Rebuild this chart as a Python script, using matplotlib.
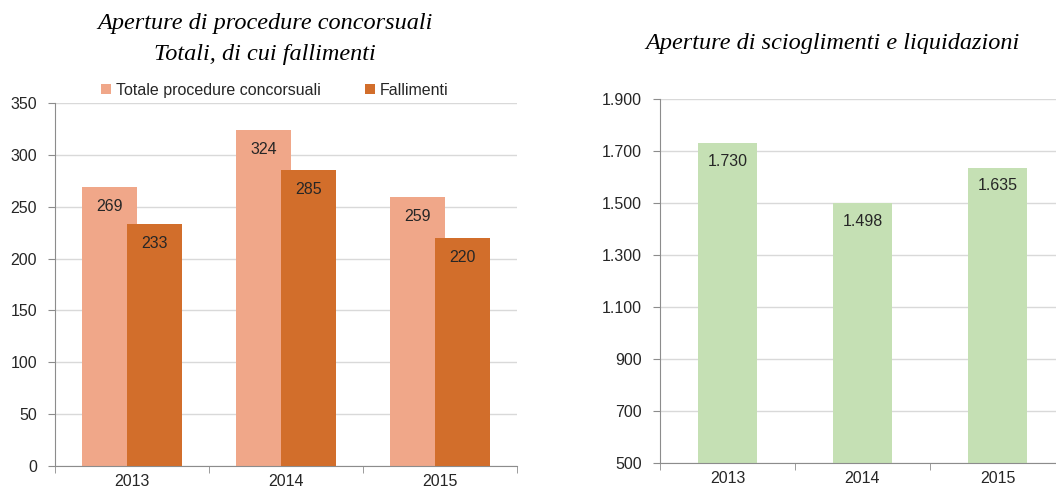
import matplotlib.pyplot as plt
import numpy as np

years = ["2013", "2014", "2015"]
totale = [269, 324, 259]
fallimenti = [233, 285, 220]
scioglimenti = [1730, 1498, 1635]

plt.rcParams['font.family'] = ['Liberation Sans', 'DejaVu Sans']

LIGHT = '#F0A789'
DARK = '#D26E2B'
GREEN = '#C5E0B4'
GRID = '#D9D9D9'
SPINE = '#8C8C8C'
TXT = '#262626'


def fmt_it(v):
    return f"{v:,.0f}".replace(",", ".")


def style_axes(ax, n):
    ax.set_xlim(-0.5, n - 0.5)
    ax.set_xticks(range(n))
    ax.set_xticklabels(years)
    ax.set_xticks(np.arange(-0.5, n, 1.0), minor=True)
    ax.tick_params(axis='x', which='major', length=0, labelsize=11.5, colors=TXT, pad=6)
    ax.tick_params(axis='x', which='minor', length=5, color=SPINE, direction='out')
    ax.tick_params(axis='y', length=5, color=SPINE, labelsize=11.5, colors=TXT, pad=8)
    for side in ('top', 'right'):
        ax.spines[side].set_visible(False)
    for side in ('left', 'bottom'):
        ax.spines[side].set_color(SPINE)
    ax.grid(axis='y', color=GRID, linewidth=1)
    ax.set_axisbelow(True)


fig = plt.figure(figsize=(10.56, 4.92), dpi=100)

# left chart
ax1 = fig.add_axes([0.0521, 0.0528, 0.4375, 0.738])
x = np.arange(len(years))
w = 0.36
b1 = ax1.bar(x - 0.145, totale, w, color=LIGHT, label='Totale procedure concorsuali', zorder=2)
b2 = ax1.bar(x + 0.145, fallimenti, w, color=DARK, label='Fallimenti', zorder=3)
ax1.set_ylim(0, 350)
ax1.set_yticks(range(0, 351, 50))
style_axes(ax1, len(years))
for bars, vals in ((b1, totale), (b2, fallimenti)):
    for r, v in zip(bars, vals):
        ax1.annotate(str(v), (r.get_x() + r.get_width() / 2, v), xytext=(0, -14),
                     textcoords='offset points', ha='center', va='center',
                     fontsize=11.5, color=TXT, zorder=5)
fig.legend(handles=[b1, b2], loc='center', bbox_to_anchor=(0.26, 0.817), ncol=2,
           frameon=False, fontsize=11.5, handlelength=0.6, handleheight=0.6,
           handletextpad=0.3, columnspacing=2.8, labelcolor=TXT)
fig.text(0.251, 0.952, "Aperture di procedure concorsuali", ha='center', va='center',
         family='Liberation Serif', style='italic', fontsize=17.5)
fig.text(0.251, 0.890, "Totali, di cui fallimenti", ha='center', va='center',
         family='Liberation Serif', style='italic', fontsize=17.5)

# right chart
ax2 = fig.add_axes([0.625, 0.0589, 0.3835, 0.740])
b3 = ax2.bar(x, scioglimenti, 0.43, color=GREEN, zorder=2)
ax2.set_ylim(500, 1900)
ax2.set_yticks(range(500, 1901, 200))
ax2.set_yticklabels([fmt_it(v) for v in range(500, 1901, 200)])
style_axes(ax2, len(years))
for r, v in zip(b3, scioglimenti):
    ax2.annotate(fmt_it(v), (r.get_x() + r.get_width() / 2, v), xytext=(0, -13),
                 textcoords='offset points', ha='center', va='center',
                 fontsize=11.5, color=TXT, zorder=5)
fig.text(0.788, 0.912, "Aperture di scioglimenti e liquidazioni", ha='center', va='center',
         family='Liberation Serif', style='italic', fontsize=17.5)

fig.savefig('out.png', dpi=100)
